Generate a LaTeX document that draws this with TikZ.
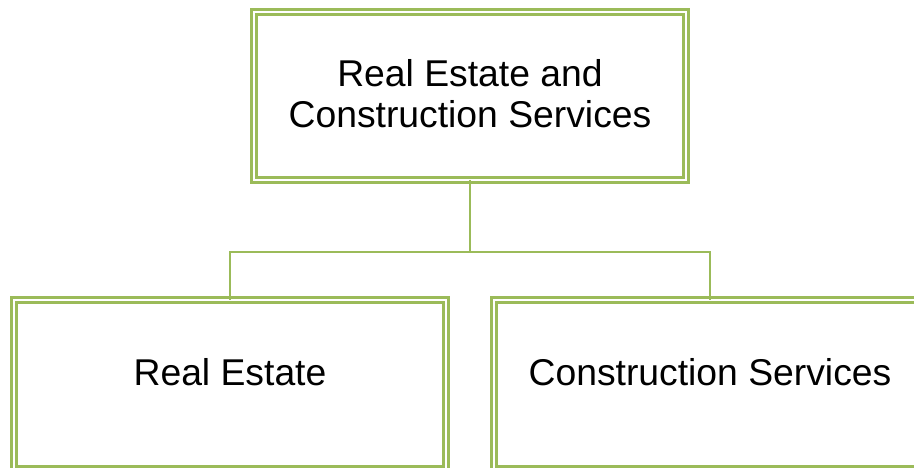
\documentclass[tikz,border=0pt]{standalone}
\usepackage{fontspec}
\setmainfont{Liberation Sans}
\usetikzlibrary{positioning,calc}
\definecolor{orgGreen}{RGB}{155,187,89}
\tikzset{
  orgbox/.style={draw=orgGreen, line width=3pt, double=white, double distance=2pt,
                 inner sep=0pt, outer sep=0pt, minimum width=432pt, minimum height=168pt},
  orgtext/.style={align=center, inner sep=0pt, text=black,
                  font=\fontsize{37.3}{41}\selectfont},
  orgline/.style={draw=orgGreen, line width=2pt}
}
\begin{document}
\begin{tikzpicture}[x=1pt, y=-1pt]
\useasboundingbox (0,0) rectangle (914,468);
% boxes
\node[orgbox] (top) at (470,96) {};
\node[orgbox, minimum height=169pt] (re) at (230,384.5) {};
\node[orgbox, minimum height=169pt] (cs) at (710,384.5) {};
% texts
\node[orgtext] (topText) at (470,94) {Real Estate and\\Construction Services};
\node[orgtext] (reText) at (230,372.5) {Real Estate};
\node[orgtext] (csText) at (710,372.5) {Construction Services};
% connectors
\coordinate (split) at (470,252);
\draw[orgline] (top.south) -- (split);
\draw[orgline] (split) -| (re.north);
\draw[orgline] (split) -| (cs.north);
\end{tikzpicture}
\end{document}
